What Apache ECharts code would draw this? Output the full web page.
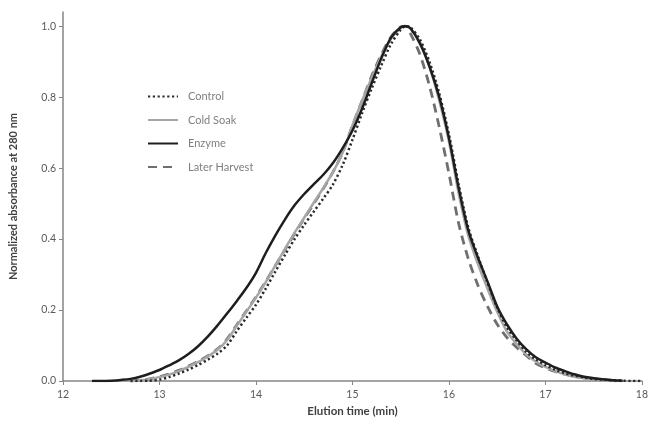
<!DOCTYPE html>
<html>
<head>
<meta charset="utf-8">
<script src="https://cdn.jsdelivr.net/npm/echarts@6/dist/echarts.min.js"></script>
<style>
html,body{margin:0;padding:0;background:#fff;}
#chart{width:651px;height:425px;}
</style>
</head>
<body>
<div id="chart"></div>
<script>
// Elution times (min)
var times = [12.3,12.4,12.5,12.6,12.7,12.8,12.9,13.0,13.1,13.2,13.3,13.4,13.5,13.6,13.7,13.8,13.9,
  14.0,14.1,14.2,14.3,14.4,14.5,14.6,14.7,14.8,14.9,15.0,15.1,15.2,15.3,15.4,15.5,15.55,15.6,15.7,15.8,15.9,
  16.0,16.1,16.2,16.3,16.4,16.5,16.6,16.7,16.8,16.9,17.0,17.1,17.2,17.3,17.4,17.5,17.6,17.7,17.8,17.9,18.0];

var control = [null,null,null,null,0,0,0.001,0.004,0.011,0.021,0.032,0.045,0.06,0.077,0.1,0.14,0.178,
  0.215,0.26,0.308,0.355,0.4,0.44,0.478,0.515,0.555,0.61,0.68,0.755,0.825,0.89,0.95,0.99,1.0,0.997,0.962,0.898,0.81,
  0.695,0.555,0.433,0.352,0.277,0.207,0.152,0.115,0.082,0.061,0.045,0.032,0.022,0.015,0.01,0.006,0.004,0.002,0.001,0,0];

var coldSoak = [null,null,null,null,0,0.002,0.006,0.011,0.018,0.028,0.04,0.053,0.069,0.088,0.115,0.155,0.195,
  0.235,0.278,0.325,0.372,0.418,0.46,0.503,0.545,0.59,0.645,0.72,0.79,0.855,0.915,0.965,0.995,1.0,0.995,0.955,0.885,0.79,
  0.675,0.53,0.41,0.33,0.26,0.195,0.14,0.105,0.075,0.055,0.04,0.028,0.019,0.012,0.008,0.005,0.003,0.001,0,null,null];

var enzyme = [0,0,0.001,0.003,0.006,0.012,0.021,0.031,0.044,0.058,0.076,0.098,0.125,0.156,0.19,0.225,0.262,
  0.305,0.36,0.41,0.455,0.495,0.527,0.555,0.582,0.615,0.657,0.706,0.768,0.84,0.91,0.968,0.997,1.0,0.994,0.951,0.885,0.8,
  0.685,0.545,0.425,0.348,0.28,0.21,0.16,0.12,0.09,0.067,0.052,0.038,0.028,0.019,0.012,0.008,0.005,0.002,0.001,null,null];

var laterHarvest = [null,null,null,null,0,0.002,0.006,0.012,0.02,0.03,0.042,0.055,0.071,0.09,0.118,0.158,0.197,
  0.237,0.28,0.325,0.37,0.415,0.458,0.5,0.543,0.59,0.645,0.72,0.79,0.86,0.92,0.97,0.998,1.0,0.98,0.92,0.83,0.715,
  0.585,0.445,0.345,0.27,0.21,0.16,0.123,0.095,0.072,0.05,0.037,0.027,0.019,0.013,0.009,0.006,0.003,0.001,0,null,null];

var seriesNames = ['Control','Cold Soak','Enzyme','Later Harvest'];
var yTicks = [0,0.2,0.4,0.6,0.8,1.0];
var xTicks = [12,13,14,15,16,17,18];

function pairs(vals){
  var out = [];
  for (var i = 0; i < times.length; i++) {
    if (vals[i] !== null) out.push([times[i], vals[i]]);
  }
  return out;
}

var FONT = 'Lato, "Open Sans", sans-serif';
var chart = echarts.init(document.getElementById('chart'), null, {renderer:'canvas'});
chart.setOption({
  animation:false,
  backgroundColor:'#ffffff',
  grid:{left:62,right:3,top:12,bottom:44,containLabel:false},
  legend:{
    orient:'vertical',left:142,top:86,itemWidth:30,itemHeight:12,itemGap:12.5,
    data:seriesNames,
    itemStyle:{color:'rgba(0,0,0,0)',borderWidth:0,opacity:0},
    textStyle:{color:'#7f7f7f',fontSize:11,fontFamily:FONT,padding:[0,0,0,5]}
  },
  xAxis:{
    type:'value',min:12,max:18,interval:1,
    name:'Elution time (min)',nameLocation:'middle',nameGap:24,
    nameTextStyle:{color:'#404040',fontSize:11.5,fontWeight:'bold',fontFamily:FONT},
    axisLine:{lineStyle:{color:'#868686',width:1.5}},
    axisTick:{length:4,lineStyle:{color:'#868686',width:1},customValues:xTicks},
    axisLabel:{color:'#595959',fontSize:10.5,fontFamily:FONT,margin:8,customValues:xTicks},
    splitLine:{show:false}
  },
  yAxis:{
    type:'value',min:0,max:1.04,interval:0.2,
    name:'Normalized absorbance at 280 nm',nameLocation:'middle',nameGap:44,
    nameTextStyle:{color:'#404040',fontSize:11,fontWeight:'bold',fontFamily:FONT},
    axisLine:{show:true,lineStyle:{color:'#868686',width:1.5}},
    axisTick:{show:true,length:4,lineStyle:{color:'#868686',width:1},customValues:yTicks},
    axisLabel:{color:'#595959',fontSize:10.5,fontFamily:FONT,margin:7,customValues:yTicks,
      formatter:function(v){return v.toFixed(1);}},
    splitLine:{show:false}
  },
  series:[
    {name:'Control',type:'line',data:pairs(control),showSymbol:false,symbol:'none',smooth:0.3,z:3,
      lineStyle:{color:'#2b2b2b',width:2.5,type:[2.2,2.6],cap:'butt'},itemStyle:{color:'#2b2b2b'}},
    {name:'Cold Soak',type:'line',data:pairs(coldSoak),showSymbol:false,symbol:'none',smooth:0.3,z:2,
      lineStyle:{color:'#a6a6a6',width:2.5},itemStyle:{color:'#a6a6a6'}},
    {name:'Enzyme',type:'line',data:pairs(enzyme),showSymbol:false,symbol:'none',smooth:0.3,z:4,
      lineStyle:{color:'#1e1e1e',width:2.5},itemStyle:{color:'#1e1e1e'}},
    {name:'Later Harvest',type:'line',data:pairs(laterHarvest),showSymbol:false,symbol:'none',smooth:0.3,z:1,
      lineStyle:{color:'#6f6f6f',width:2.8,type:[9,6]},itemStyle:{color:'#6f6f6f'}}
  ]
});
</script>
</body>
</html>
